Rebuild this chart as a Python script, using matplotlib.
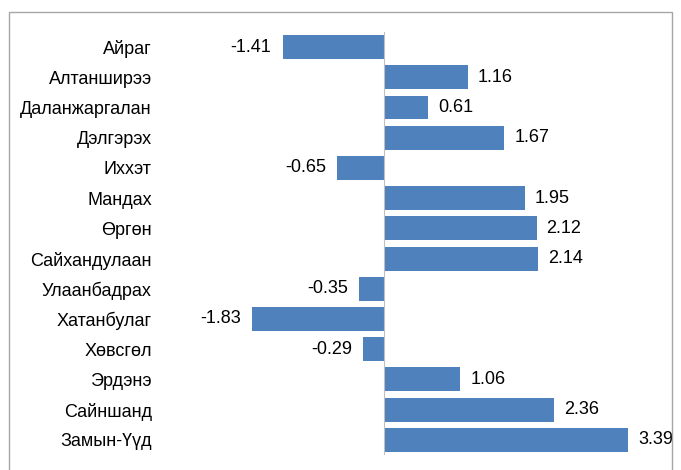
import matplotlib.pyplot as plt
from matplotlib.patches import Rectangle

plt.rcParams['font.family'] = ['Liberation Sans', 'DejaVu Sans']

places = ['Айраг', 'Алтанширээ', 'Даланжаргалан', 'Дэлгэрэх', 'Иххэт', 'Мандах',
          'Өргөн', 'Сайхандулаан', 'Улаанбадрах', 'Хатанбулаг', 'Хөвсгөл',
          'Эрдэнэ', 'Сайншанд', 'Замын-Үүд']
values = [-1.41, 1.16, 0.61, 1.67, -0.65, 1.95, 2.12, 2.14, -0.35, -1.83, -0.29,
          1.06, 2.36, 3.39]

fig = plt.figure(figsize=(6.81, 4.70), dpi=100)
ax = fig.add_axes([0.235, 0.032, 0.749, 0.90])

ypos = list(range(len(places)))
ax.barh(ypos, values, height=0.79, color='#4F81BD')
ax.set_ylim(len(places) - 0.5, -0.5)
ax.set_xlim(-3.11, 3.97)
ax.axvline(0, color='#BFBFBF', lw=0.8)

for y, v in zip(ypos, values):
    if v >= 0:
        ax.annotate('%.2f' % v, (v, y), xytext=(7, 0), textcoords='offset points',
                    ha='left', va='center', fontsize=13)
    else:
        ax.annotate('%.2f' % v, (v, y), xytext=(-8, 0), textcoords='offset points',
                    ha='right', va='center', fontsize=13)

ax.set_yticks(ypos)
ax.set_yticklabels(places, fontsize=13)
ax.tick_params(axis='y', length=0, pad=6)
ax.set_xticks([])
for s in ax.spines.values():
    s.set_visible(False)

fig.patches.append(Rectangle((9 / 681, -0.05), 663 / 681, 1.05 - 12 / 470,
                             transform=fig.transFigure, fill=False,
                             edgecolor='#A6A6A6', lw=1))

plt.savefig('out.png', dpi=100)
